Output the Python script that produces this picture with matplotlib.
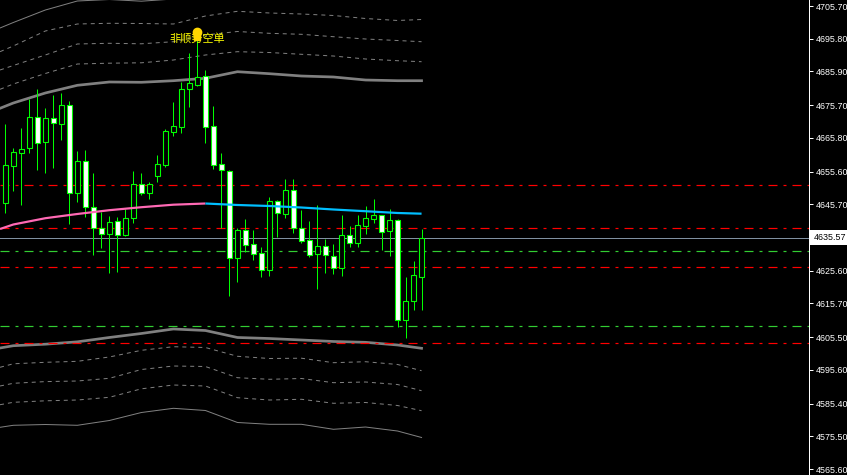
import matplotlib
matplotlib.use('Agg')
import matplotlib.pyplot as plt
from matplotlib.patches import Rectangle
import matplotlib.transforms as mtransforms

plt.rcParams['font.family'] = ['Liberation Sans', 'DejaVu Sans']
plt.rcParams['lines.scale_dashes'] = False

# ---------------- candle data (bar index 0..52) ----------------
opens = [4646.18, 4657.38, 4661.31, 4662.59, 4672.03, 4664.64, 4671.72, 4670.09, 4675.66, 4649.21,
         4658.71, 4644.79, 4638.44, 4636.62, 4640.56, 4636.32, 4641.46, 4651.75, 4649.21, 4654.35,
         4657.68, 4667.67, 4669.18, 4680.50, 4681.80, 4684.52, 4669.30, 4657.80, 4655.78, 4629.54,
         4637.92, 4633.60, 4630.87, 4625.91, 4646.61, 4642.86, 4649.94, 4638.44, 4634.81, 4630.57,
         4632.99, 4629.97, 4626.33, 4636.32, 4633.90, 4639.04, 4641.34, 4642.37, 4637.53, 4640.86,
         4610.60, 4616.35, 4623.85]
highs = [4670.00, 4662.74, 4668.70, 4677.56, 4680.50, 4674.84, 4678.77, 4679.38, 4676.87, 4661.83,
         4662.13, 4655.17, 4643.37, 4642.16, 4641.86, 4644.37, 4655.78, 4655.08, 4652.54, 4660.62,
         4668.39, 4676.56, 4682.80, 4691.57, 4698.44, 4686.34, 4675.44, 4661.22, 4656.08, 4638.44,
         4641.16, 4637.92, 4632.69, 4647.82, 4647.00, 4653.36, 4653.36, 4643.98, 4640.65, 4645.49,
         4635.20, 4633.69, 4642.46, 4639.13, 4642.46, 4645.19, 4647.30, 4642.46, 4644.19, 4641.16,
         4623.70, 4628.54, 4638.32]
lows = [4643.16, 4649.82, 4645.64, 4661.37, 4656.08, 4655.26, 4656.78, 4665.25, 4639.74, 4646.40,
        4641.95, 4630.36, 4632.57, 4625.00, 4625.31, 4636.11, 4640.13, 4648.51, 4647.21, 4652.54,
        4657.08, 4666.46, 4667.37, 4675.23, 4681.50, 4664.16, 4656.47, 4638.44, 4617.95, 4622.28,
        4631.36, 4628.85, 4623.79, 4624.00, 4635.72, 4641.46, 4637.11, 4633.99, 4629.85, 4620.16,
        4625.00, 4624.70, 4624.10, 4632.87, 4632.87, 4636.71, 4640.13, 4631.87, 4630.15, 4608.66,
        4605.33, 4613.72, 4613.72]
closes = [4657.50, 4661.44, 4662.34, 4672.03, 4664.34, 4671.72, 4670.21, 4675.66, 4649.03, 4658.71,
          4644.79, 4638.38, 4636.62, 4640.25, 4636.32, 4641.46, 4651.75, 4649.21, 4651.75, 4657.80,
          4667.79, 4669.30, 4680.59, 4682.31, 4684.13, 4669.18, 4657.68, 4655.93, 4629.54, 4637.92,
          4633.39, 4630.75, 4625.73, 4646.61, 4642.98, 4649.94, 4638.44, 4634.51, 4630.27, 4632.99,
          4630.27, 4626.52, 4636.32, 4633.90, 4639.35, 4641.46, 4642.37, 4637.23, 4640.86, 4610.60,
          4616.35, 4624.22, 4635.57]

# ---------------- indicator lines (sampled at bar positions) ----------------
band_x = [-0.66, 1, 5, 9, 13, 17, 21, 25, 29, 33, 37, 41, 45, 49, 52]
ma_line = [4638.23, 4639.59, 4641.49, 4642.77, 4643.92, 4644.82, 4645.58, 4645.94, 4645.49, 4645.19,
           4644.73, 4644.13, 4643.61, 4643.07, 4642.86]
ma_turn = 7  # index in band_x where the MA turns from rising (pink) to falling (blue)
upper_thin = [4699.05, 4700.71, 4704.49, 4707.22, 4707.67, 4707.16, 4707.82, 4709.03, 4711.15, 4710.85,
              4710.24, 4710.55, 4709.03, 4709.34, 4710.55]
upper_dash3 = [4691.88, 4693.60, 4698.14, 4700.26, 4700.47, 4700.41, 4700.26, 4702.68, 4704.10, 4703.59,
               4703.28, 4702.83, 4701.92, 4701.32, 4701.62]
upper_dash2 = [4686.34, 4687.70, 4690.88, 4694.21, 4694.42, 4694.27, 4694.90, 4696.93, 4697.99, 4697.44,
               4697.14, 4696.41, 4695.72, 4695.26, 4694.90]
upper_dash1 = [4680.50, 4682.10, 4685.28, 4688.15, 4688.40, 4688.52, 4689.36, 4690.88, 4691.88, 4691.63,
               4691.09, 4690.57, 4689.67, 4689.15, 4688.85]
upper_thick = [4674.75, 4676.35, 4679.38, 4681.71, 4682.71, 4682.62, 4683.10, 4683.83, 4685.82, 4685.22,
               4684.52, 4684.22, 4683.31, 4683.10, 4683.10]
lower_thick = [4602.22, 4602.91, 4603.37, 4604.09, 4605.40, 4606.61, 4607.97, 4607.51, 4605.40, 4605.09,
               4604.64, 4604.19, 4603.94, 4603.13, 4602.13]
lower_dash1 = [4596.38, 4597.44, 4597.89, 4598.19, 4599.50, 4601.52, 4602.61, 4602.37, 4599.71, 4599.04,
               4599.13, 4597.77, 4598.07, 4597.23, 4595.35]
lower_dash2 = [4590.72, 4591.54, 4592.05, 4592.23, 4593.05, 4595.71, 4596.77, 4596.62, 4593.23, 4592.75,
               4592.99, 4591.72, 4591.93, 4591.17, 4589.30]
lower_dash3 = [4585.06, 4585.79, 4586.24, 4586.48, 4587.30, 4589.87, 4591.02, 4590.72, 4587.18, 4586.48,
               4586.70, 4585.49, 4585.73, 4584.82, 4583.25]
lower_thin = [4578.22, 4578.83, 4579.07, 4578.83, 4580.28, 4582.70, 4583.97, 4583.31, 4579.68, 4579.13,
              4579.13, 4577.62, 4578.31, 4577.10, 4575.14]

# ---------------- horizontal levels ----------------
red_levels = [4651.50, 4638.44, 4626.64, 4603.64]
green_levels = [4631.48, 4608.78]
current_price = 4635.57

# ---------------- axis ----------------
ytick_values = [4705.70, 4695.80, 4685.90, 4675.70, 4665.80, 4655.60, 4645.70,
                4625.60, 4615.70, 4605.50, 4595.60, 4585.40, 4575.50, 4565.60]
ytick_labels = ['4705.70', '4695.80', '4685.90', '4675.70', '4665.80', '4655.60', '4645.70',
                '4625.60', '4615.70', '4605.50', '4595.60', '4585.40', '4575.50', '4565.60']
y_range = (4563.79, 4707.52)
x_range = (-0.6625, 100.34)

# ---------------- annotation ----------------
note_text = '非顺势空单'
note_bar = 24
note_price = 4696.1
icon_price = 4697.9

PX = 0.72  # one pixel in points at 100 dpi

fig = plt.figure(figsize=(8.47, 4.75), dpi=100, facecolor='black')
ax = fig.add_axes([0, 0, 808.5 / 847, 1])
ax.set_facecolor('black')
ax.set_xlim(*x_range)
ax.set_ylim(*y_range)

# bands
gray = '#808080'
ax.plot(band_x, upper_thin, color=gray, lw=1 * PX, zorder=2)
ax.plot(band_x, lower_thin, color=gray, lw=1 * PX, zorder=2)
for series in (upper_dash1, upper_dash2, upper_dash3, lower_dash1, lower_dash2, lower_dash3):
    ax.plot(band_x, series, color=gray, lw=1 * PX, dashes=(4 * PX, 4 * PX), zorder=2)
ax.plot(band_x, upper_thick, color=gray, lw=2.7 * PX, zorder=2)
ax.plot(band_x, lower_thick, color=gray, lw=2.7 * PX, zorder=2)

# horizontal levels (dash-dot)
dd = (0, (9 * PX, 6 * PX, 3 * PX, 6 * PX))
for lvl in red_levels:
    ax.axhline(lvl, color='#ff0000', lw=1.2 * PX, linestyle=dd, zorder=2)
for lvl in green_levels:
    ax.axhline(lvl, color='#32cd32', lw=1.2 * PX, linestyle=dd, zorder=2)
ax.axhline(current_price, color='#8090a0', lw=1 * PX, zorder=2)

# candles
for i, (o, h, l, c) in enumerate(zip(opens, highs, lows, closes)):
    ax.vlines(i, l, h, color='#00ff00', lw=1 * PX, zorder=3)
    face = 'white' if c < o else 'black'
    ax.add_patch(Rectangle((i - 0.3, min(o, c)), 0.6, abs(c - o), facecolor=face,
                           edgecolor='#00ff00', lw=1.1 * PX, zorder=4))

# moving average (pink rising, blue falling)
ax.plot(band_x[:ma_turn + 1], ma_line[:ma_turn + 1], color='#ff69b4', lw=2.2 * PX,
        zorder=5, solid_capstyle='butt')
ax.plot(band_x[ma_turn:], ma_line[ma_turn:], color='#00bfff', lw=2.2 * PX,
        zorder=5, solid_capstyle='butt')

# annotation
ax.text(note_bar, note_price, note_text, color='#ffff00', fontsize=8, ha='center', va='center',
        family=['Noto Sans CJK SC', 'DejaVu Sans'], zorder=6)
ax.plot([note_bar], [icon_price], marker='o', ms=6, color='#ffd700', zorder=7)
ax.plot([note_bar], [icon_price - 1.6], marker='s', ms=4, color='#ffd700', zorder=7)

# axes styling
for side in ('left', 'top', 'bottom'):
    ax.spines[side].set_visible(False)
ax.spines['right'].set_color('white')
ax.spines['right'].set_linewidth(1 * PX)
ax.set_xticks([])
ax.yaxis.tick_right()
ax.set_yticks(ytick_values)
ax.set_yticklabels(ytick_labels)
ax.tick_params(axis='y', colors='white', length=3, width=1 * PX, direction='out', pad=2.0,
               labelsize=6.4)

# current price label
blend = mtransforms.blended_transform_factory(ax.transAxes, ax.transData)
ax.text(1 + 5.0 / 808.5, current_price, '4635.57', transform=blend, ha='left', va='center',
        fontsize=6.4, color='black', clip_on=False,
        bbox=dict(boxstyle='square,pad=0.35', fc='white', ec='none'))

fig.savefig('out.png', dpi=100, facecolor='black')
